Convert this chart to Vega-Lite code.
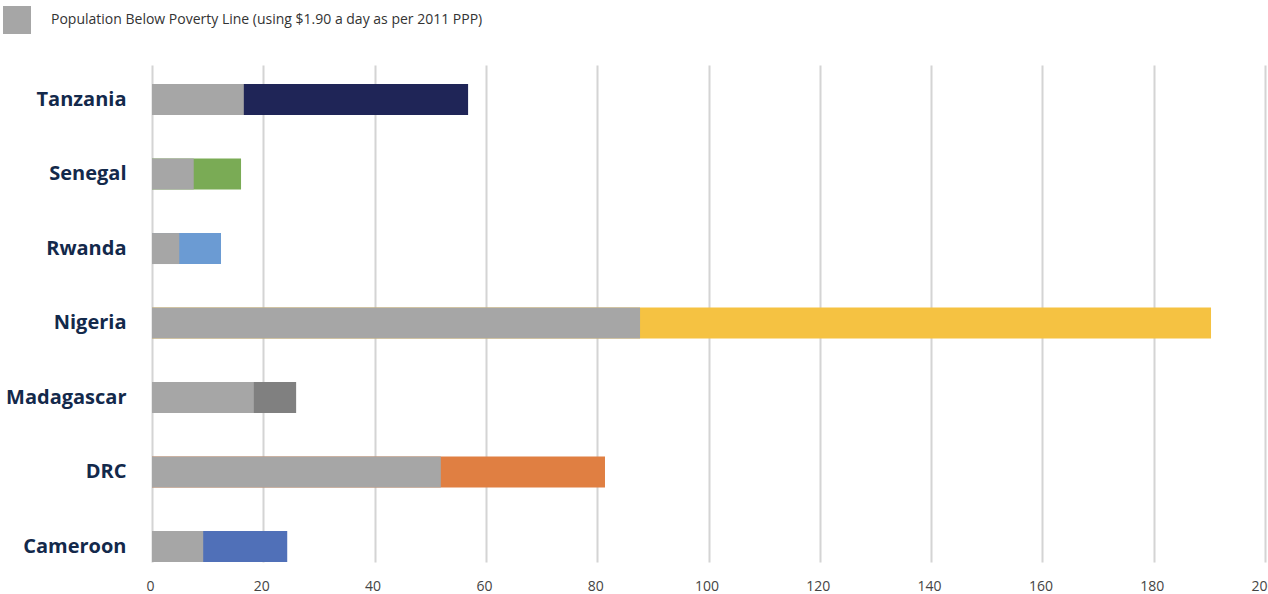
{
  "$schema": "https://vega.github.io/schema/vega-lite/v6.json",
  "width": 1113,
  "height": 497,
  "autosize": {"type": "none"},
  "padding": {"left": 152, "top": 65, "right": 3, "bottom": 32},
  "background": "white",
  "data": {
    "values": [
      {"country": "Tanzania", "poverty": 16.5, "total": 56.8, "color": "#1f2557", "series": "Population Below Poverty Line (using $1.90 a day as per 2011 PPP)"},
      {"country": "Senegal", "poverty": 7.5, "total": 16.0, "color": "#7aab55", "series": "Population Below Poverty Line (using $1.90 a day as per 2011 PPP)"},
      {"country": "Rwanda", "poverty": 4.9, "total": 12.4, "color": "#6b9bd3", "series": "Population Below Poverty Line (using $1.90 a day as per 2011 PPP)"},
      {"country": "Nigeria", "poverty": 87.7, "total": 190.3, "color": "#f5c242", "series": "Population Below Poverty Line (using $1.90 a day as per 2011 PPP)"},
      {"country": "Madagascar", "poverty": 18.3, "total": 25.9, "color": "#808080", "series": "Population Below Poverty Line (using $1.90 a day as per 2011 PPP)"},
      {"country": "DRC", "poverty": 51.9, "total": 81.4, "color": "#e07f42", "series": "Population Below Poverty Line (using $1.90 a day as per 2011 PPP)"},
      {"country": "Cameroon", "poverty": 9.2, "total": 24.3, "color": "#5070b8", "series": "Population Below Poverty Line (using $1.90 a day as per 2011 PPP)"}
    ]
  },
  "encoding": {
    "y": {
      "field": "country",
      "type": "nominal",
      "sort": "descending",
      "scale": {"paddingInner": 0.584, "paddingOuter": 0.128, "align": 1},
      "axis": {
        "title": null,
        "domain": false,
        "ticks": false,
        "labelFont": "Open Sans",
        "labelFontWeight": "bold",
        "labelFontSize": 20,
        "labelColor": "#13294b",
        "labelPadding": 26
      }
    }
  },
  "layer": [
    {
      "mark": {"type": "bar"},
      "encoding": {
        "x": {
          "field": "total",
          "type": "quantitative",
          "scale": {"domain": [0, 200]},
          "axis": {
            "title": null,
            "values": [0, 20, 40, 60, 80, 100, 120, 140, 160, 180, 200],
            "domain": false,
            "ticks": false,
            "grid": true,
            "gridColor": "#d4d4d4",
            "gridWidth": 2,
            "labelFont": "Open Sans",
            "labelFontSize": 14,
            "labelColor": "#444444",
            "labelPadding": 17,
            "labelFlush": false,
            "labelOffset": -2
          }
        },
        "color": {"field": "color", "type": "nominal", "scale": null, "legend": null}
      }
    },
    {
      "mark": {"type": "bar"},
      "encoding": {
        "x": {"field": "poverty", "type": "quantitative"},
        "fill": {
          "field": "series",
          "type": "nominal",
          "scale": {"range": ["#a6a6a6"]},
          "legend": {
            "title": null,
            "orient": "none",
            "legendX": -149,
            "legendY": -59,
            "symbolType": "square",
            "symbolSize": 784,
            "symbolStrokeWidth": 0,
            "symbolOpacity": 1,
            "labelFont": "Open Sans",
            "labelFontSize": 14,
            "labelColor": "#333333",
            "labelOffset": 20,
            "labelLimit": 700
          }
        }
      }
    }
  ],
  "resolve": {"scale": {"color": "independent"}},
  "config": {"view": {"stroke": null}}
}
